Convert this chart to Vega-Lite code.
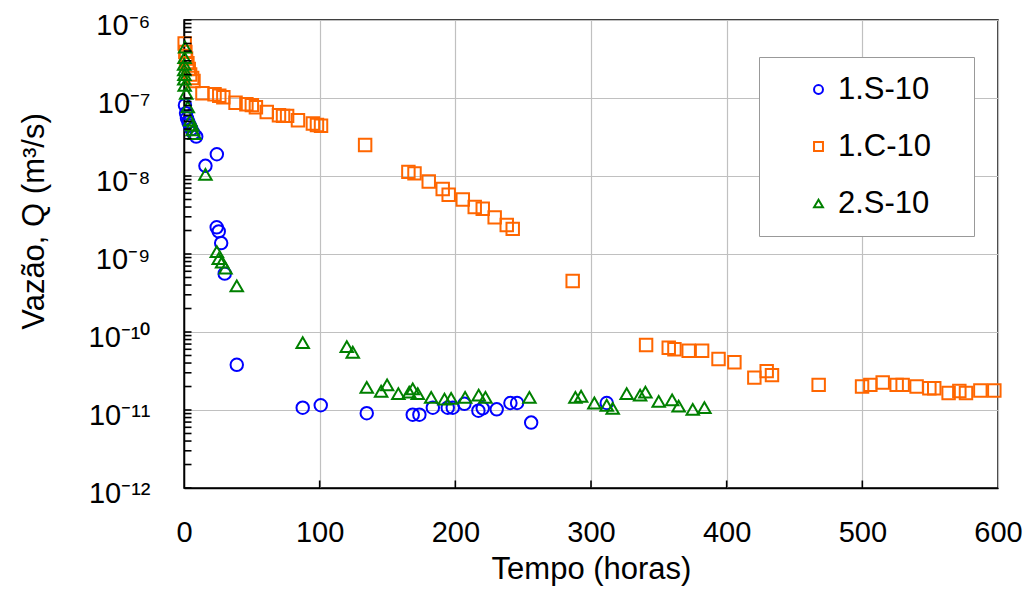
{
  "$schema": "https://vega.github.io/schema/vega-lite/v6.json",
  "autosize": {"type": "none"},
  "padding": {"left": 184, "top": 20, "right": 32, "bottom": 102},
  "width": 814,
  "height": 468,
  "background": "white",
  "config": {
    "font": "Liberation Sans",
    "view": {"stroke": "black", "strokeWidth": 1.5},
    "axis": {
      "labelFont": "Liberation Sans",
      "titleFont": "Liberation Sans",
      "labelColor": "black",
      "titleColor": "black",
      "titleFontWeight": "normal",
      "domainColor": "black",
      "domainWidth": 1.5,
      "ticks": false,
      "tickSize": 0,
      "grid": true,
      "gridColor": "#c0c0c0",
      "gridWidth": 1.2
    },
    "legend": {
      "labelFont": "Liberation Sans",
      "labelColor": "black"
    }
  },
  "datasets": {
    "yticks": [
      {"q": 1e-12}, {"q": 2e-12}, {"q": 3e-12}, {"q": 4e-12}, {"q": 5e-12}, {"q": 6e-12}, {"q": 7e-12}, {"q": 8e-12}, {"q": 9e-12},
      {"q": 1e-11}, {"q": 2e-11}, {"q": 3e-11}, {"q": 4e-11}, {"q": 5e-11}, {"q": 6e-11}, {"q": 7e-11}, {"q": 8e-11}, {"q": 9e-11},
      {"q": 1e-10}, {"q": 2e-10}, {"q": 3e-10}, {"q": 4e-10}, {"q": 5e-10}, {"q": 6e-10}, {"q": 7e-10}, {"q": 8e-10}, {"q": 9e-10},
      {"q": 1e-9}, {"q": 2e-9}, {"q": 3e-9}, {"q": 4e-9}, {"q": 5e-9}, {"q": 6e-9}, {"q": 7e-9}, {"q": 8e-9}, {"q": 9e-9},
      {"q": 1e-8}, {"q": 2e-8}, {"q": 3e-8}, {"q": 4e-8}, {"q": 5e-8}, {"q": 6e-8}, {"q": 7e-8}, {"q": 8e-8}, {"q": 9e-8},
      {"q": 1e-7}, {"q": 2e-7}, {"q": 3e-7}, {"q": 4e-7}, {"q": 5e-7}, {"q": 6e-7}, {"q": 7e-7}, {"q": 8e-7}, {"q": 9e-7},
      {"q": 1e-6}
    ],
    "xticks": [{"t": 100}, {"t": 200}, {"t": 300}, {"t": 400}, {"t": 500}],
    "pts": [
      {"serie": "1.S-10", "t": 0.7, "q": 8.1e-8},
      {"serie": "1.S-10", "t": 1.5, "q": 6.4e-8},
      {"serie": "1.S-10", "t": 2.2, "q": 5.5e-8},
      {"serie": "1.S-10", "t": 3.3, "q": 4.9e-8},
      {"serie": "1.S-10", "t": 4.4, "q": 4.4e-8},
      {"serie": "1.S-10", "t": 5.5, "q": 4.0e-8},
      {"serie": "1.S-10", "t": 7.0, "q": 3.55e-8},
      {"serie": "1.S-10", "t": 9.0, "q": 3.2e-8},
      {"serie": "1.S-10", "t": 15.8, "q": 1.35e-8},
      {"serie": "1.S-10", "t": 24.2, "q": 1.9e-8},
      {"serie": "1.S-10", "t": 24.1, "q": 2.2e-9},
      {"serie": "1.S-10", "t": 25.6, "q": 1.95e-9},
      {"serie": "1.S-10", "t": 27.4, "q": 1.38e-9},
      {"serie": "1.S-10", "t": 30.0, "q": 5.6e-10},
      {"serie": "1.S-10", "t": 38.9, "q": 3.8e-11},
      {"serie": "1.S-10", "t": 87.5, "q": 1.07e-11},
      {"serie": "1.S-10", "t": 100.8, "q": 1.15e-11},
      {"serie": "1.S-10", "t": 134.7, "q": 9.1e-12},
      {"serie": "1.S-10", "t": 168.6, "q": 8.7e-12},
      {"serie": "1.S-10", "t": 173.5, "q": 8.7e-12},
      {"serie": "1.S-10", "t": 183.4, "q": 1.07e-11},
      {"serie": "1.S-10", "t": 194.4, "q": 1.07e-11},
      {"serie": "1.S-10", "t": 198.1, "q": 1.07e-11},
      {"serie": "1.S-10", "t": 206.7, "q": 1.2e-11},
      {"serie": "1.S-10", "t": 217.0, "q": 9.8e-12},
      {"serie": "1.S-10", "t": 220.2, "q": 1.05e-11},
      {"serie": "1.S-10", "t": 230.5, "q": 1.02e-11},
      {"serie": "1.S-10", "t": 240.6, "q": 1.23e-11},
      {"serie": "1.S-10", "t": 245.5, "q": 1.23e-11},
      {"serie": "1.S-10", "t": 255.9, "q": 6.9e-12},
      {"serie": "1.S-10", "t": 311.6, "q": 1.23e-11},

      {"serie": "1.C-10", "t": 0.5, "q": 5.0e-7},
      {"serie": "1.C-10", "t": 1.0, "q": 3.9e-7},
      {"serie": "1.C-10", "t": 1.5, "q": 3.2e-7},
      {"serie": "1.C-10", "t": 2.5, "q": 2.8e-7},
      {"serie": "1.C-10", "t": 3.5, "q": 2.35e-7},
      {"serie": "1.C-10", "t": 4.5, "q": 2.0e-7},
      {"serie": "1.C-10", "t": 6.0, "q": 1.8e-7},
      {"serie": "1.C-10", "t": 7.0, "q": 1.65e-7},
      {"serie": "1.C-10", "t": 13.6, "q": 1.15e-7},
      {"serie": "1.C-10", "t": 22.5, "q": 1.12e-7},
      {"serie": "1.C-10", "t": 26.0, "q": 1.07e-7},
      {"serie": "1.C-10", "t": 29.0, "q": 1.02e-7},
      {"serie": "1.C-10", "t": 38.0, "q": 8.7e-8},
      {"serie": "1.C-10", "t": 46.0, "q": 8.3e-8},
      {"serie": "1.C-10", "t": 50.0, "q": 8.1e-8},
      {"serie": "1.C-10", "t": 53.0, "q": 7.6e-8},
      {"serie": "1.C-10", "t": 61.0, "q": 6.6e-8},
      {"serie": "1.C-10", "t": 70.0, "q": 6.0e-8},
      {"serie": "1.C-10", "t": 73.0, "q": 5.9e-8},
      {"serie": "1.C-10", "t": 76.0, "q": 5.9e-8},
      {"serie": "1.C-10", "t": 84.0, "q": 5.2e-8},
      {"serie": "1.C-10", "t": 95.0, "q": 4.7e-8},
      {"serie": "1.C-10", "t": 98.0, "q": 4.5e-8},
      {"serie": "1.C-10", "t": 101.0, "q": 4.4e-8},
      {"serie": "1.C-10", "t": 133.5, "q": 2.5e-8},
      {"serie": "1.C-10", "t": 165.4, "q": 1.13e-8},
      {"serie": "1.C-10", "t": 169.9, "q": 1.08e-8},
      {"serie": "1.C-10", "t": 180.4, "q": 8.5e-9},
      {"serie": "1.C-10", "t": 190.7, "q": 6.8e-9},
      {"serie": "1.C-10", "t": 195.1, "q": 5.75e-9},
      {"serie": "1.C-10", "t": 205.5, "q": 5.0e-9},
      {"serie": "1.C-10", "t": 214.3, "q": 4.0e-9},
      {"serie": "1.C-10", "t": 220.2, "q": 3.8e-9},
      {"serie": "1.C-10", "t": 229.0, "q": 2.95e-9},
      {"serie": "1.C-10", "t": 237.9, "q": 2.35e-9},
      {"serie": "1.C-10", "t": 242.3, "q": 2.1e-9},
      {"serie": "1.C-10", "t": 286.5, "q": 4.5e-10},
      {"serie": "1.C-10", "t": 340.6, "q": 6.8e-11},
      {"serie": "1.C-10", "t": 357.3, "q": 6.3e-11},
      {"serie": "1.C-10", "t": 361.5, "q": 6.0e-11},
      {"serie": "1.C-10", "t": 372.0, "q": 5.75e-11},
      {"serie": "1.C-10", "t": 381.9, "q": 5.75e-11},
      {"serie": "1.C-10", "t": 394.0, "q": 4.5e-11},
      {"serie": "1.C-10", "t": 405.7, "q": 4.1e-11},
      {"serie": "1.C-10", "t": 420.4, "q": 2.6e-11},
      {"serie": "1.C-10", "t": 429.5, "q": 3.15e-11},
      {"serie": "1.C-10", "t": 433.4, "q": 2.8e-11},
      {"serie": "1.C-10", "t": 467.8, "q": 2.1e-11},
      {"serie": "1.C-10", "t": 499.8, "q": 2.0e-11},
      {"serie": "1.C-10", "t": 505.9, "q": 2.1e-11},
      {"serie": "1.C-10", "t": 515.0, "q": 2.25e-11},
      {"serie": "1.C-10", "t": 525.3, "q": 2.1e-11},
      {"serie": "1.C-10", "t": 529.7, "q": 2.1e-11},
      {"serie": "1.C-10", "t": 540.0, "q": 2.0e-11},
      {"serie": "1.C-10", "t": 549.4, "q": 1.9e-11},
      {"serie": "1.C-10", "t": 553.0, "q": 1.9e-11},
      {"serie": "1.C-10", "t": 563.6, "q": 1.65e-11},
      {"serie": "1.C-10", "t": 571.5, "q": 1.75e-11},
      {"serie": "1.C-10", "t": 576.4, "q": 1.65e-11},
      {"serie": "1.C-10", "t": 587.0, "q": 1.78e-11},
      {"serie": "1.C-10", "t": 597.3, "q": 1.78e-11},

      {"serie": "2.S-10", "t": 0.8, "q": 4.5e-7},
      {"serie": "2.S-10", "t": 0.4, "q": 3.3e-7},
      {"serie": "2.S-10", "t": 0.1, "q": 2.7e-7},
      {"serie": "2.S-10", "t": 0.2, "q": 2.3e-7},
      {"serie": "2.S-10", "t": 0.3, "q": 2.0e-7},
      {"serie": "2.S-10", "t": 0.2, "q": 1.75e-7},
      {"serie": "2.S-10", "t": 0.5, "q": 1.45e-7},
      {"serie": "2.S-10", "t": 1.6, "q": 1.15e-7},
      {"serie": "2.S-10", "t": 2.8, "q": 7.7e-8},
      {"serie": "2.S-10", "t": 4.6, "q": 5.2e-8},
      {"serie": "2.S-10", "t": 6.0, "q": 4.5e-8},
      {"serie": "2.S-10", "t": 6.5, "q": 3.9e-8},
      {"serie": "2.S-10", "t": 7.7, "q": 3.5e-8},
      {"serie": "2.S-10", "t": 15.8, "q": 1.05e-8},
      {"serie": "2.S-10", "t": 24.2, "q": 1.07e-9},
      {"serie": "2.S-10", "t": 25.6, "q": 8.7e-10},
      {"serie": "2.S-10", "t": 28.1, "q": 7.9e-10},
      {"serie": "2.S-10", "t": 30.6, "q": 6.6e-10},
      {"serie": "2.S-10", "t": 38.9, "q": 3.9e-10},
      {"serie": "2.S-10", "t": 87.5, "q": 7.3e-11},
      {"serie": "2.S-10", "t": 120.0, "q": 6.5e-11},
      {"serie": "2.S-10", "t": 124.4, "q": 5.5e-11},
      {"serie": "2.S-10", "t": 134.7, "q": 1.95e-11},
      {"serie": "2.S-10", "t": 145.3, "q": 1.74e-11},
      {"serie": "2.S-10", "t": 149.7, "q": 2.1e-11},
      {"serie": "2.S-10", "t": 158.0, "q": 1.62e-11},
      {"serie": "2.S-10", "t": 166.0, "q": 1.7e-11},
      {"serie": "2.S-10", "t": 168.6, "q": 1.86e-11},
      {"serie": "2.S-10", "t": 172.3, "q": 1.62e-11},
      {"serie": "2.S-10", "t": 182.2, "q": 1.45e-11},
      {"serie": "2.S-10", "t": 192.0, "q": 1.38e-11},
      {"serie": "2.S-10", "t": 196.9, "q": 1.41e-11},
      {"serie": "2.S-10", "t": 207.2, "q": 1.45e-11},
      {"serie": "2.S-10", "t": 217.2, "q": 1.55e-11},
      {"serie": "2.S-10", "t": 222.2, "q": 1.45e-11},
      {"serie": "2.S-10", "t": 254.6, "q": 1.45e-11},
      {"serie": "2.S-10", "t": 288.5, "q": 1.45e-11},
      {"serie": "2.S-10", "t": 292.7, "q": 1.5e-11},
      {"serie": "2.S-10", "t": 302.5, "q": 1.23e-11},
      {"serie": "2.S-10", "t": 311.6, "q": 1.15e-11},
      {"serie": "2.S-10", "t": 316.0, "q": 1.05e-11},
      {"serie": "2.S-10", "t": 326.3, "q": 1.62e-11},
      {"serie": "2.S-10", "t": 336.2, "q": 1.55e-11},
      {"serie": "2.S-10", "t": 340.1, "q": 1.7e-11},
      {"serie": "2.S-10", "t": 349.9, "q": 1.29e-11},
      {"serie": "2.S-10", "t": 359.8, "q": 1.35e-11},
      {"serie": "2.S-10", "t": 364.6, "q": 1.12e-11},
      {"serie": "2.S-10", "t": 375.0, "q": 1.02e-11},
      {"serie": "2.S-10", "t": 383.6, "q": 1.07e-11}
    ]
  },
  "layer": [
    {
      "data": {"name": "pts"},
      "mark": {"type": "point", "filled": false, "strokeWidth": 2, "size": 155, "opacity": 1},
      "encoding": {
        "x": {
          "field": "t",
          "type": "quantitative",
          "scale": {"domain": [0, 600], "nice": false, "zero": false},
          "axis": {
            "title": "Tempo (horas)",
            "titleFontSize": 31,
            "titleY": 90,
            "titleBaseline": "alphabetic",
            "grid": true,
            "values": [0, 100, 200, 300, 400, 500, 600],
            "labelFontSize": 29,
            "labelPadding": 30,
            "labelFlush": false,
            "labelOverlap": false
          }
        },
        "y": {
          "field": "q",
          "type": "quantitative",
          "scale": {"type": "log", "domain": [1e-12, 1e-6], "nice": false},
          "axis": {
            "title": "Vazão, Q (m³/s)",
            "titleFontSize": 31,
            "titleAngle": -90,
            "titleX": -141,
            "titleY": 201,
            "titleAlign": "center",
            "titleBaseline": "alphabetic",
            "grid": true,
            "values": [1e-12, 1e-11, 1e-10, 1e-9, 1e-8, 1e-7, 1e-6],
            "labelExpr": "'10⁻' + (round(log(datum.value)/LN10) == -6 ? '⁶' : round(log(datum.value)/LN10) == -7 ? '⁷' : round(log(datum.value)/LN10) == -8 ? '⁸' : round(log(datum.value)/LN10) == -9 ? '⁹' : round(log(datum.value)/LN10) == -10 ? '¹⁰' : round(log(datum.value)/LN10) == -11 ? '¹¹' : '¹²')",
            "labelFontSize": 29,
            "labelPadding": 34,
            "labelOffset": 5,
            "labelFlush": false,
            "labelOverlap": false
          }
        },
        "color": {
          "field": "serie",
          "type": "nominal",
          "scale": {"domain": ["1.S-10", "1.C-10", "2.S-10"], "range": ["#0000ff", "#ff6600", "#008000"]},
          "legend": {
            "title": " ",
            "titleOrient": "right",
            "titleFontSize": 10,
            "titlePadding": 26,
            "orient": "none",
            "legendX": 575,
            "legendY": 37,
            "fillColor": "white",
            "strokeColor": "#999999",
            "padding": 17,
            "labelFontSize": 31,
            "symbolSize": 80,
            "symbolStrokeWidth": 2,
            "symbolOffset": 27,
            "labelOffset": 4,
            "rowPadding": 25
          }
        },
        "shape": {
          "field": "serie",
          "type": "nominal",
          "scale": {"domain": ["1.S-10", "1.C-10", "2.S-10"], "range": ["circle", "square", "triangle-up"]}
        }
      }
    },
    {
      "data": {"name": "yticks"},
      "mark": {"type": "point", "shape": "M0,0L1,0", "size": 225, "filled": false, "stroke": "black", "strokeWidth": 1.6, "opacity": 1},
      "encoding": {
        "y": {"field": "q", "type": "quantitative"},
        "x": {"datum": 0}
      }
    },
    {
      "data": {"name": "xticks"},
      "mark": {"type": "point", "shape": "M0,0L0,-1", "size": 225, "filled": false, "stroke": "black", "strokeWidth": 1.6, "opacity": 1},
      "encoding": {
        "x": {"field": "t", "type": "quantitative"},
        "y": {"datum": 1e-12}
      }
    }
  ]
}
